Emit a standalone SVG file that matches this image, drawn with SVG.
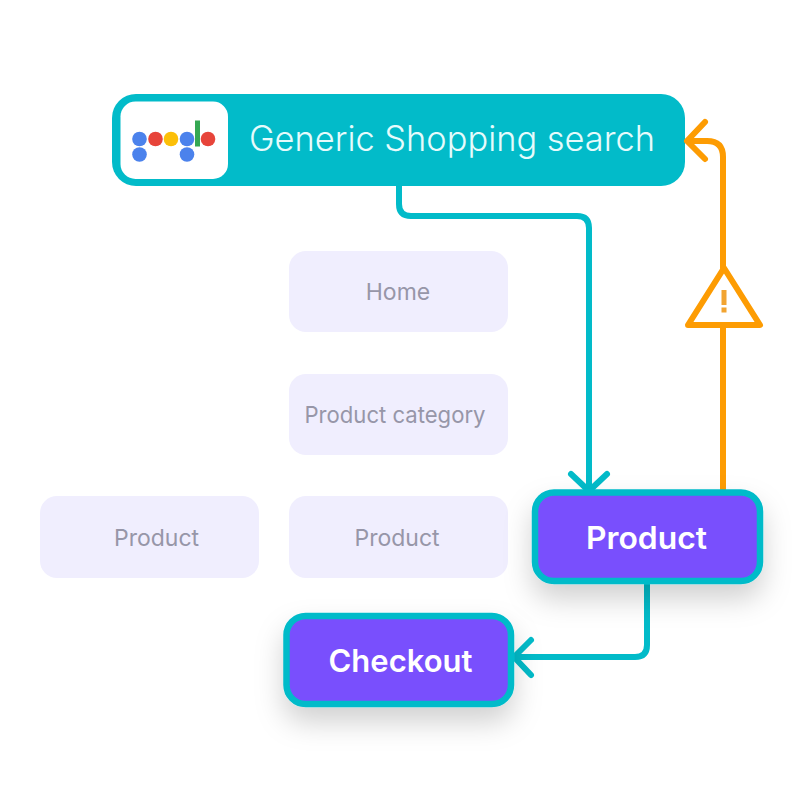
<svg xmlns="http://www.w3.org/2000/svg" width="800" height="800" viewBox="0 0 800 800">
<style>
.ghost{fill:#f0eefe}
.gt{font:400 23px Inter,"Liberation Sans",sans-serif;fill:#9796a8;text-anchor:middle}
.act{fill:#7950fd;stroke:#02bbc9;stroke-width:6.5}
.at{font:600 31px Inter,"Liberation Sans",sans-serif;fill:#fff;text-anchor:middle}
.c{fill:none;stroke:#02bbc9;stroke-width:6;stroke-linecap:round;stroke-linejoin:round}
.o{fill:none;stroke:#fd9c03;stroke-width:6;stroke-linecap:round;stroke-linejoin:round}
</style>
<defs>
<filter id="sh" x="-30%" y="-40%" width="160%" height="210%"><feDropShadow dx="0" dy="15" stdDeviation="14" flood-color="#000" flood-opacity=".18"/></filter>
</defs>
<g id="header">
<rect x="112" y="94" width="573" height="92" rx="24" fill="#02bbc9"/>
<rect x="120.500" y="101.500" width="107.500" height="77.500" rx="15" fill="#fff"/>
<g id="logo">
<circle cx="139.500" cy="139" r="7.300" fill="#4b82ec"/><circle cx="139.500" cy="154.500" r="7.300" fill="#4b82ec"/>
<circle cx="155.500" cy="139" r="7.300" fill="#e7443a"/><circle cx="171" cy="139" r="7.300" fill="#fcbf08"/>
<circle cx="187" cy="139" r="7.300" fill="#4b82ec"/><circle cx="187" cy="154.500" r="7.300" fill="#4b82ec"/>
<rect x="195" y="120.500" width="5" height="26" fill="#34a853"/><circle cx="208" cy="139" r="7.300" fill="#e7443a"/>
</g>
<text x="452" y="151" font-family="Inter,'Liberation Sans',sans-serif" font-size="35" font-weight="300" fill="#e6fbfc" text-anchor="middle" textLength="406" lengthAdjust="spacingAndGlyphs">Generic Shopping search</text>
</g>
<g id="home"><rect class="ghost" x="289" y="251" width="219" height="81" rx="17"/><text class="gt" x="398" y="300">Home</text></g>
<g id="category"><rect class="ghost" x="289" y="374" width="219" height="81" rx="17"/><text class="gt" x="395" y="423" textLength="181" lengthAdjust="spacingAndGlyphs">Product category</text></g>
<g id="product-left"><rect class="ghost" x="40" y="496" width="219" height="82" rx="17"/><text class="gt" x="156.500" y="546">Product</text></g>
<g id="product-mid"><rect class="ghost" x="289" y="496" width="219" height="82" rx="17"/><text class="gt" x="397" y="546">Product</text></g>
<g id="connectors">
<path class="c" d="M399 186V204Q399 216 411 216H577Q589 216 589 228V489"/>
<path class="c" d="M571 474L589 491L607 474"/>
<path class="o" d="M723 489V326"/>
<path class="o" d="M723 268V157Q723 141 707 141H688"/>
<path class="o" d="M705 122L687 141L705 159"/>
<path class="c" d="M647 584V645Q647 657 635 657H515"/>
<path class="c" d="M531 640L514 657L531 675"/>
</g>
<g id="warning">
<path class="o" style="fill:#fff" d="M724 268L760 325H688Z"/>
<rect x="721.500" y="290" width="5" height="15" fill="#f2a431"/><rect x="721.500" y="307.500" width="5" height="5" fill="#f2a431"/>
</g>
<g id="product"><rect class="act" x="535" y="492.500" width="225" height="88.500" rx="19" filter="url(#sh)"/><text class="at" x="646.500" y="549" textLength="121" lengthAdjust="spacingAndGlyphs">Product</text></g>
<g id="checkout"><rect class="act" x="286.500" y="616" width="224.500" height="88" rx="19" filter="url(#sh)"/><text class="at" x="400.500" y="672" textLength="144" lengthAdjust="spacingAndGlyphs">Checkout</text></g>
</svg>
